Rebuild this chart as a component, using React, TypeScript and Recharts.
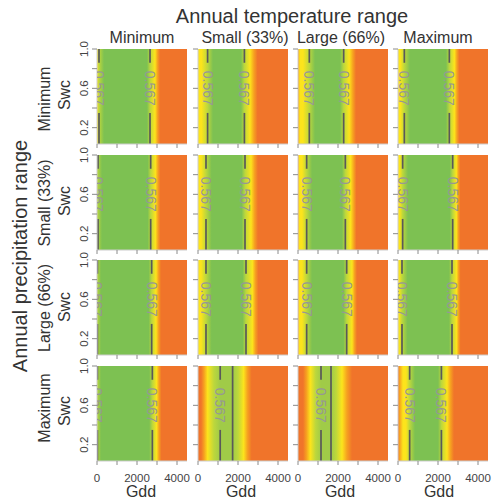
import { ComposedChart, XAxis, YAxis, ReferenceArea, ReferenceDot, Line } from 'recharts';

const FONT = '"Liberation Sans", Arial, Helvetica, sans-serif';

// facet labels
const tempRanges = ['Minimum', 'Small (33%)', 'Large (66%)', 'Maximum'];
const precipRanges = ['Minimum', 'Small (33%)', 'Large (66%)', 'Maximum'];

// axes
const GDD_MAX = 4500;
const SWC_MIN = 0.034;
const gddTicks = [0, 1000, 2000, 3000, 4000];
const gddLabels = [0, 2000, 4000];
const swcTicks = [0.2, 0.4, 0.6, 0.8, 1.0];
const swcLabels = ['0.2', '', '0.6', '', '1.0'];
const contourLevel = '0.567';

// colour classes of the probability surface, low -> high
const palette: Record<string, string> = {
  O: '#F0742A',
  A: '#F6A020',
  Y: '#FCE41C',
  L: '#BCD73C',
  M: '#A0CB48',
  G: '#7DC152',
};

// colour stops along Gdd for each panel: [gdd, class]
const minPrecipStops: [number, string][][] = [
  [[0, 'Y'], [100, 'L'], [350, 'G'], [2500, 'G'], [2650, 'L'], [2900, 'Y'], [3030, 'A'], [3150, 'O']],
  [[0, 'Y'], [170, 'Y'], [480, 'L'], [750, 'G'], [2150, 'G'], [2320, 'L'], [2600, 'Y'], [2800, 'A'], [2980, 'O']],
  [[0, 'A'], [100, 'Y'], [250, 'Y'], [567, 'L'], [850, 'G'], [2100, 'G'], [2283, 'L'], [2560, 'Y'], [2750, 'A'], [2900, 'O']],
  [[0, 'Y'], [120, 'Y'], [317, 'L'], [600, 'G'], [2400, 'G'], [2567, 'L'], [2820, 'Y'], [2950, 'A'], [3070, 'O']],
];
const smallPrecipStops: [number, string][][] = [
  [[0, 'L'], [250, 'G'], [2530, 'G'], [2683, 'L'], [2920, 'Y'], [3050, 'A'], [3170, 'O']],
  [[0, 'Y'], [150, 'Y'], [400, 'L'], [680, 'G'], [2180, 'G'], [2350, 'L'], [2650, 'Y'], [2830, 'A'], [3000, 'O']],
  [[0, 'A'], [80, 'Y'], [200, 'Y'], [433, 'L'], [700, 'G'], [2200, 'G'], [2367, 'L'], [2630, 'Y'], [2800, 'A'], [2920, 'O']],
  [[0, 'Y'], [80, 'Y'], [233, 'L'], [500, 'G'], [2580, 'G'], [2733, 'L'], [2920, 'Y'], [3020, 'A'], [3120, 'O']],
];
const largePrecipStops: [number, string][][] = [
  [[0, 'L'], [200, 'G'], [2580, 'G'], [2733, 'L'], [2950, 'Y'], [3080, 'A'], [3200, 'O']],
  [[0, 'Y'], [150, 'Y'], [400, 'L'], [680, 'G'], [2230, 'G'], [2400, 'L'], [2720, 'Y'], [2870, 'A'], [3020, 'O']],
  [[0, 'A'], [80, 'Y'], [200, 'Y'], [433, 'L'], [700, 'G'], [2270, 'G'], [2433, 'L'], [2700, 'Y'], [2830, 'A'], [2950, 'O']],
  [[0, 'Y'], [60, 'Y'], [200, 'L'], [480, 'G'], [2550, 'G'], [2700, 'L'], [2930, 'Y'], [3030, 'A'], [3130, 'O']],
];
const maxPrecipStops: [number, string][][] = [
  [[0, 'L'], [200, 'G'], [2610, 'G'], [2767, 'L'], [2980, 'Y'], [3100, 'A'], [3220, 'O']],
  [[0, 'O'], [150, 'O'], [300, 'A'], [480, 'Y'], [800, 'L'], [1110, 'M'], [1730, 'M'], [2000, 'L'], [2280, 'Y'], [2480, 'A'], [2680, 'O']],
  [[0, 'O'], [250, 'O'], [420, 'A'], [620, 'Y'], [880, 'L'], [1150, 'M'], [1650, 'M'], [1900, 'L'], [2200, 'Y'], [2450, 'A'], [2700, 'O']],
  [[0, 'O'], [80, 'A'], [250, 'Y'], [400, 'Y'], [583, 'L'], [850, 'G'], [2000, 'G'], [2170, 'L'], [2450, 'Y'], [2630, 'A'], [2800, 'O']],
];

// 0.567 contour positions (gdd, labelled?)
const minPrecipContours: [number, boolean][][] = [
  [[100, true], [2650, true]],
  [[480, true], [2320, true]],
  [[567, true], [2283, true]],
  [[317, true], [2567, true]],
];
const smallPrecipContours: [number, boolean][][] = [
  [[50, true], [2683, true]],
  [[400, true], [2350, true]],
  [[433, true], [2367, true]],
  [[233, true], [2733, true]],
];
const largePrecipContours: [number, boolean][][] = [
  [[20, true], [2733, true]],
  [[400, true], [2400, true]],
  [[433, true], [2433, true]],
  [[200, true], [2700, true]],
];
const maxPrecipContours: [number, boolean][][] = [
  [[20, true], [2767, true]],
  [[1110, true], [1730, false]],
  [[1150, true], [1650, false]],
  [[583, true], [2170, true]],
];

const panelStops = [minPrecipStops, smallPrecipStops, largePrecipStops, maxPrecipStops];
const panelContours = [minPrecipContours, smallPrecipContours, largePrecipContours, maxPrecipContours];

// layout
const PANEL_W = 90;
const PANEL_H = 95;
const AXIS_W = 30;
const AXIS_H = 30;
const PAD_R = 15;
const PAD_T = 10;
const colLeft = [97, 198, 298, 398];
const rowTop = [49, 155, 260, 366];

// where the contour line is broken for its label
const GAP_TOP = 0.86;
const GAP_BOTTOM = 0.35;
const LABEL_Y = 0.6;

function Panel({ row, col }: { row: number; col: number }) {
  const stops = panelStops[row][col];
  const contours = panelContours[row][col];
  const gid = `grad-${row}-${col}`;
  const cid = `clip-${row}-${col}`;
  const showY = col === 0;
  const showX = row === 3;

  // line pieces of the contours
  const segments: { gdd: number; swc: number }[][] = [];
  contours.forEach(([g, labelled]) => {
    if (labelled) {
      segments.push([{ gdd: g, swc: 1 }, { gdd: g, swc: GAP_TOP }]);
      segments.push([{ gdd: g, swc: GAP_BOTTOM }, { gdd: g, swc: SWC_MIN }]);
    } else {
      segments.push([{ gdd: g, swc: 1 }, { gdd: g, swc: SWC_MIN }]);
    }
  });

  const xTick = (p: any) => {
    const v = p.payload.value;
    if (!showX || !gddLabels.includes(v)) return <g />;
    return (
      <text x={p.x} y={PAD_T + PANEL_H + 20.7} textAnchor="middle" fontSize={11.5} fill="#444" fontFamily={FONT}>
        {v}
      </text>
    );
  };
  const yTick = (p: any) => {
    const label = swcLabels[p.index];
    if (!showY || !label) return <g />;
    const tx = AXIS_W - 9;
    return (
      <text x={tx} y={p.y} transform={`rotate(-90 ${tx} ${p.y})`} textAnchor="middle" fontSize={11.5} fill="#444" fontFamily={FONT}>
        {label}
      </text>
    );
  };

  return (
    <div style={{ position: 'absolute', left: colLeft[col] - AXIS_W, top: rowTop[row] - PAD_T }}>
      <ComposedChart
        width={AXIS_W + PANEL_W + PAD_R}
        height={PAD_T + PANEL_H + AXIS_H}
        margin={{ top: PAD_T, right: PAD_R, bottom: 0, left: 0 }}
      >
        <defs>
          <linearGradient id={gid} x1="0" y1="0" x2="1" y2="0">
            {stops.map(([g, k], i) => (
              <stop key={i} offset={g / GDD_MAX} stopColor={palette[k]} />
            ))}
          </linearGradient>
          <clipPath id={cid}>
            <rect x={AXIS_W} y={PAD_T} width={PANEL_W} height={PANEL_H} />
          </clipPath>
        </defs>
        <XAxis
          type="number"
          dataKey="gdd"
          domain={[0, GDD_MAX]}
          ticks={gddTicks}
          interval={0}
          height={AXIS_H}
          tickSize={4}
          tickLine={{ stroke: '#8a8a8a' }}
          axisLine={{ stroke: '#cccccc' }}
          tick={xTick}
          allowDataOverflow
        />
        <YAxis
          type="number"
          dataKey="swc"
          domain={[SWC_MIN, 1]}
          ticks={swcTicks}
          interval={0}
          width={AXIS_W}
          tickSize={5}
          tickLine={{ stroke: '#8a8a8a' }}
          axisLine={{ stroke: '#cccccc' }}
          tick={yTick}
          allowDataOverflow
        />
        <ReferenceArea x1={0} x2={GDD_MAX} y1={SWC_MIN} y2={1} fill={`url(#${gid})`} fillOpacity={1} stroke="none" />
        {segments.map((seg, i) => (
          <Line
            key={i}
            data={seg}
            dataKey="swc"
            type="linear"
            stroke="#595959"
            strokeWidth={1.7}
            dot={false}
            activeDot={false}
            isAnimationActive={false}
          />
        ))}
        {contours
          .filter(([, labelled]) => labelled)
          .map(([g], i) => (
            <ReferenceDot
              key={`l${i}`}
              x={g}
              y={LABEL_Y}
              r={1}
              shape={(p: any) => (
                <g clipPath={`url(#${cid})`}>
                  <text
                    x={p.cx}
                    y={p.cy}
                    transform={`rotate(90 ${p.cx} ${p.cy})`}
                    textAnchor="middle"
                    dominantBaseline="central"
                    fontSize={14}
                    fill="#979797"
                    fontFamily={FONT}
                  >
                    {contourLevel}
                  </text>
                </g>
              )}
            />
          ))}
      </ComposedChart>
    </div>
  );
}

const headerX = [142, 245, 341, 438];
const rowNameY = [99, 203, 308, 408];
const swcY = [95, 201, 307, 411];
const gddX = [141, 241, 340, 439];

export default function App() {
  return (
    <div style={{ position: 'absolute', left: 0, top: 0, width: 498, height: 500, background: '#fff', fontFamily: FONT }}>
      <svg width={498} height={500} style={{ position: 'absolute', left: 0, top: 0 }}>
        <text x={292} y={22.5} textAnchor="middle" fontSize={20} fill="#333">
          Annual temperature range
        </text>
        {tempRanges.map((t, i) => (
          <text key={t} x={headerX[i]} y={43.3} textAnchor="middle" fontSize={16} fill="#333">
            {t}
          </text>
        ))}
        <text transform="translate(27,256) rotate(-90)" textAnchor="middle" fontSize={20} fill="#333">
          Annual precipitation range
        </text>
        {precipRanges.map((t, i) => (
          <g key={t}>
            <text transform={`translate(49.5,${rowNameY[i]}) rotate(-90)`} textAnchor="middle" fontSize={16} fill="#333">
              {t}
            </text>
            <text transform={`translate(70,${swcY[i]}) rotate(-90)`} textAnchor="middle" fontSize={16} fill="#333">
              Swc
            </text>
          </g>
        ))}
        {gddX.map((x, i) => (
          <text key={i} x={x} y={497} textAnchor="middle" fontSize={16} fill="#333">
            Gdd
          </text>
        ))}
      </svg>
      {precipRanges.map((_, r) => tempRanges.map((__, c) => <Panel key={`${r}-${c}`} row={r} col={c} />))}
    </div>
  );
}
